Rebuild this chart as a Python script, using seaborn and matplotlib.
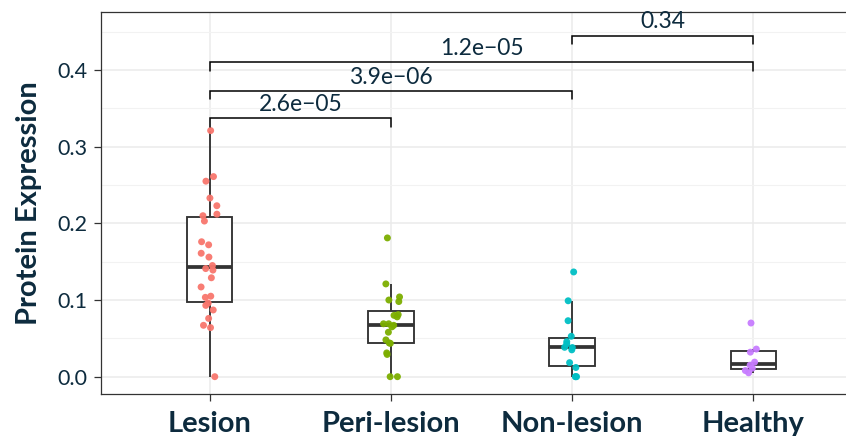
import numpy as np
import pandas as pd
import matplotlib
matplotlib.use("Agg")
import matplotlib.pyplot as plt
import seaborn as sns

# values
groups = ["Lesion", "Peri-lesion", "Non-lesion", "Healthy"]
colors = ["#F8766D", "#7CAE00", "#00BFC4", "#C77CFF"]

lesion = [0.321, 0.261, 0.255, 0.233, 0.223, 0.212, 0.210, 0.203, 0.176,
          0.172, 0.161, 0.156, 0.145, 0.141, 0.139, 0.129, 0.117, 0.105,
          0.1035, 0.096, 0.093, 0.087, 0.076, 0.067, 0.064, 0.000]
peri_lesion = [0.181, 0.121, 0.100, 0.098, 0.104, 0.080, 0.081, 0.078,
               0.069, 0.069, 0.067, 0.065, 0.058, 0.048, 0.044, 0.0435,
               0.031, 0.029, 0.000, 0.000]
non_lesion = [0.1366, 0.099, 0.073, 0.0527, 0.0457, 0.0427, 0.038, 0.0383,
              0.035, 0.0183, 0.012, 0.000, 0.000, 0.000]
healthy = [0.070, 0.036, 0.032, 0.019, 0.015, 0.011, 0.008, 0.005]

# significance brackets
pairs = [("Lesion", "Peri-lesion"), ("Lesion", "Non-lesion"),
         ("Lesion", "Healthy"), ("Non-lesion", "Healthy")]
p_labels = ["2.6e\u221205", "3.9e\u221206", "1.2e\u221205", "0.34"]
bracket_y = [0.337, 0.373, 0.410, 0.445]

df = pd.concat([
    pd.DataFrame({"group": g, "value": v})
    for g, v in zip(groups, [lesion, peri_lesion, non_lesion, healthy])
], ignore_index=True)

sns.set_theme(style="white")
plt.rcParams["font.family"] = ["Lato", "DejaVu Sans"]
text_color = "#0d2b3e"

fig = plt.figure(figsize=(8.46, 4.36), dpi=100)
ax = fig.add_axes([101 / 846, 1 - 394 / 436, 761 / 846, 382 / 436])

sns.boxplot(data=df, x="group", y="value", order=groups, width=0.25,
            showfliers=False, showcaps=False, linewidth=1.35, color="white",
            boxprops=dict(facecolor="white", edgecolor="#333333"),
            whiskerprops=dict(color="#333333"),
            medianprops=dict(color="#333333", linewidth=2.7), ax=ax, zorder=2)
np.random.seed(3)
sns.stripplot(data=df, x="group", y="value", order=groups, hue="group",
              hue_order=groups, palette=colors, jitter=0.05, size=5,
              linewidth=0, alpha=0.95, legend=False, ax=ax, zorder=3)

# brackets
tick = 0.011
for (a, b), lab, y in zip(pairs, p_labels, bracket_y):
    x1, x2 = groups.index(a), groups.index(b)
    ax.plot([x1, x1, x2, x2], [y - tick, y, y, y - tick], color="black",
            lw=1.1, zorder=4, solid_joinstyle="miter")
    ax.text((x1 + x2) / 2, y + 0.004, lab, ha="center", va="bottom",
            fontsize=16.5, color=text_color)

ax.set_xlim(-0.6, 3.6)
ax.set_ylim(-0.0226, 0.4757)
ax.set_yticks([0.0, 0.1, 0.2, 0.3, 0.4])
ax.set_yticks([0.05, 0.15, 0.25, 0.35, 0.45], minor=True)
ax.grid(True, which="major", color="#EBEBEB", lw=1.1, zorder=0)
ax.grid(True, which="minor", axis="y", color="#F2F2F2", lw=0.8, zorder=0)
ax.set_axisbelow(True)

for s in ax.spines.values():
    s.set_color("#333333")
    s.set_linewidth(0.9)

ax.tick_params(axis="y", which="major", left=True, length=5, width=0.9,
               color="#333333", pad=5, labelsize=15.5, labelcolor=text_color)
ax.tick_params(axis="y", which="minor", left=False)
ax.tick_params(axis="x", bottom=True, length=5, width=0.9, color="#333333",
               pad=7, labelsize=21, labelcolor=text_color)
for lbl in ax.get_xticklabels():
    lbl.set_fontweight("bold")

ax.set_xlabel("")
ax.set_ylabel("Protein Expression", fontsize=21, fontweight="bold",
              color=text_color, labelpad=11)

fig.savefig("out.png", dpi=100)
